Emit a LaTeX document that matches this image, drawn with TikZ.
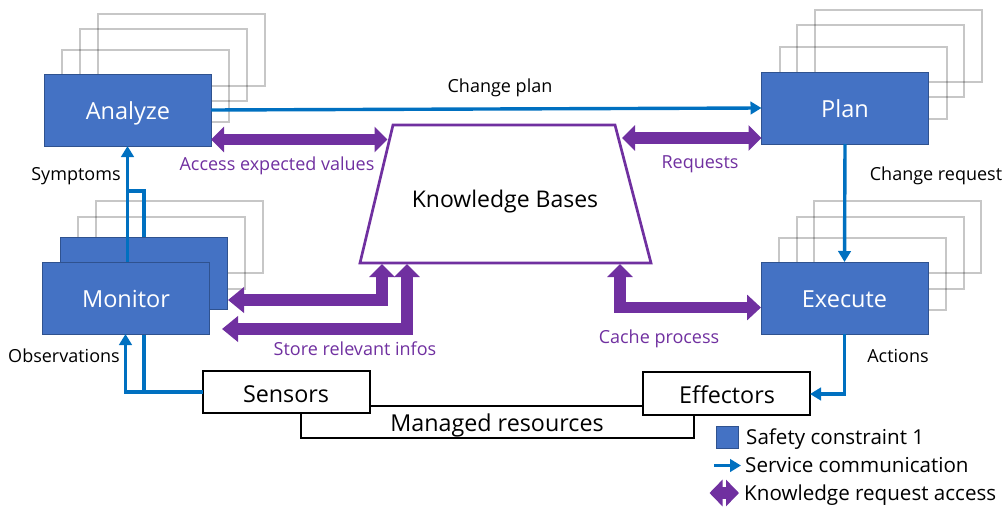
\documentclass[tikz,border=0pt]{standalone}
\usepackage{fontspec}
\setmainfont{Open Sans}
\usetikzlibrary{arrows.meta}
\definecolor{fillblue}{HTML}{4472C4}
\definecolor{edgeblue}{HTML}{2F528F}
\definecolor{linkblue}{HTML}{0070C0}
\definecolor{kbpurple}{HTML}{7030A0}
\tikzset{
  x=1pt,y=-1pt,
  ghost/.style={draw=black,draw opacity=.22,line width=2,minimum width=167,minimum height=72,inner sep=0,outer sep=0},
  comp/.style={draw=edgeblue,fill=fillblue,line width=1,minimum width=167,minimum height=72,inner sep=0,outer sep=0},
  compt/.style={text=white,font=\fontsize{23.5}{28}\selectfont,inner sep=0},
  res/.style={draw=black,fill=white,line width=2,inner sep=0,outer sep=0},
  rest/.style={text=black,font=\fontsize{23.3}{28}\selectfont,inner sep=0},
  link/.style={draw=linkblue,line width=3.4,-{Triangle[length=11,width=12.5]}},
  linkplain/.style={draw=linkblue,line width=3.4},
  know/.style={draw=kbpurple,line width=11.5,{Triangle[length=13,width=25]}-{Triangle[length=13,width=25]}},
  lab/.style={font=\fontsize{18}{22}\selectfont,text=black,inner sep=0},
  plab/.style={font=\fontsize{18}{22}\selectfont,text=kbpurple,inner sep=0},
  leg/.style={font=\fontsize{20.6}{25}\selectfont,text=black,inner sep=0,anchor=west},
}
\begin{document}
\begin{tikzpicture}
\useasboundingbox (0,0) rectangle (1003,506);
% ghost stacks
\node[ghost] (ga1) at (145.5,86) {};
\node[ghost] (ga2) at (163.5,65) {};
\node[ghost] (ga3) at (181,49.5) {};
\node[ghost] (gm1) at (161.5,252.5) {};
\node[ghost] (gm2) at (179,237) {};
\node[ghost] (gp1) at (863,83) {};
\node[ghost] (gp2) at (880,61) {};
\node[ghost] (gp3) at (898,45.5) {};
\node[ghost] (ge1) at (862.5,274) {};
\node[ghost] (ge2) at (880,252.5) {};
\node[ghost] (ge3) at (897.5,236.5) {};
% resources
\node[res,minimum width=393,minimum height=32] (managed) at (497.5,422) {};
\node[rest] (managedt) at (497,425) {Managed resources};
\node[res,minimum width=167,minimum height=42] (sensors) at (286.5,392) {};
\node[rest] (sensorst) at (286,394) {Sensors};
\node[res,minimum width=167,minimum height=43] (effectors) at (726.5,393.5) {};
\node[rest] (effectorst) at (727,395) {Effectors};
% branch behind the monitor boxes
\coordinate (branchbottom) at (144,392);
\coordinate (branchtop) at (144,191);
\coordinate (branchend) at (127.5,191);
\draw[linkplain] (sensors.west) -- (branchbottom) -- (branchtop) -- (branchend);
% components
\node[comp] (analyze) at (127.5,110) {};
\node[compt] (analyzet) at (128,113.5) {Analyze};
\node[comp] (plan) at (845,108) {};
\node[compt] (plant) at (845,109) {Plan};
\node[comp] (monitorback) at (143.5,273) {};
\draw[link] (analyze.south |- monitorback.center) -- (analyze.south);
\node[comp] (monitor) at (125.5,298) {};
\node[compt] (monitort) at (126,299) {Monitor};
\node[comp] (execute) at (844.5,298) {};
\node[compt] (executet) at (844.5,299) {Execute};
% knowledge base
\coordinate (k1) at (393,125);
\coordinate (k2) at (615,125);
\coordinate (k3) at (651,263);
\coordinate (k4) at (360,263);
\draw[draw=kbpurple,fill=white,line width=2.7] (k1) -- (k2) -- (k3) -- (k4) -- cycle;
\node[font=\fontsize{23}{28}\selectfont,text=black,inner sep=0] (kb) at (505,202) {Knowledge Bases};
% service links
\draw[link] (analyze.east) -- (plan.west);
\draw[link] (plan.south) -- (execute.north);
\coordinate (actcorner) at (844.5,394);
\draw[link] (execute.south) -- (actcorner) -- (effectors.east |- actcorner);
\draw[link] (sensors.west) -- (monitor.south |- sensors.west) -- (monitor.south);
% knowledge links
\coordinate (accessr) at (387.5,139.5);
\draw[know] ([yshift=-29.5]analyze.east) -- (accessr);
\coordinate (reql) at (622,138);
\draw[know] (reql) -- ([yshift=-30]plan.west);
\coordinate (m1s) at (228,300);
\coordinate (m1c) at (382,300);
\coordinate (m1e) at (382,264);
\draw[draw=kbpurple,line width=11.5,{Triangle[length=16,width=25]}-{Triangle[length=13,width=25]}] (m1s) -- (m1c) -- (m1e);
\coordinate (m2s) at (222,329);
\coordinate (m2c) at (407,329);
\coordinate (m2e) at (407,264);
\draw[draw=kbpurple,line width=11.5,{Triangle[length=16,width=25]}-{Triangle[length=13,width=25]}] (m2s) -- (m2c) -- (m2e);
\coordinate (c1) at (620,264);
\coordinate (c2) at (620,307.5);
\draw[draw=kbpurple,line width=11.5,{Triangle[length=13,width=25]}-{Triangle[length=14,width=25]}] (c1) -- (c2) -- (execute.west |- c2);
% labels
\node[lab] (tchange) at (500,88) {Change plan};
\node[lab] (tsym) at (76,176) {Symptoms};
\node[lab] (tobs) at (64,356) {Observations};
\node[lab] (treq) at (936,176) {Change request};
\node[lab] (tact) at (898,356) {Actions};
\node[plab] (tacc) at (277,165.5) {Access expected values};
\node[plab] (trequests) at (700,164.5) {Requests};
\node[plab] (tstore) at (355,348.5) {Store relevant infos};
\node[plab] (tcache) at (659,338.5) {Cache process};
% legend
\node[draw=edgeblue,fill=fillblue,line width=1,minimum width=22,minimum height=22,inner sep=0,outer sep=0] (legbox) at (727,437) {};
\node[leg] (l1) at (746,439) {Safety constraint 1};
\node[leg] (l2) at (745,465) {Service communication};
\node[leg] (l3) at (744,495.5) {Knowledge request access};
\coordinate (la) at (714,465.5);
\draw[link] (la) -- ([xshift=-4]l2.west |- la);
\coordinate (lb) at (709.5,493);
\draw[draw=kbpurple,line width=11.5,{Triangle[length=13,width=26]}-{Triangle[length=13,width=26]}] (lb) -- ([xshift=-5]l3.west |- lb);
\end{tikzpicture}
\end{document}
